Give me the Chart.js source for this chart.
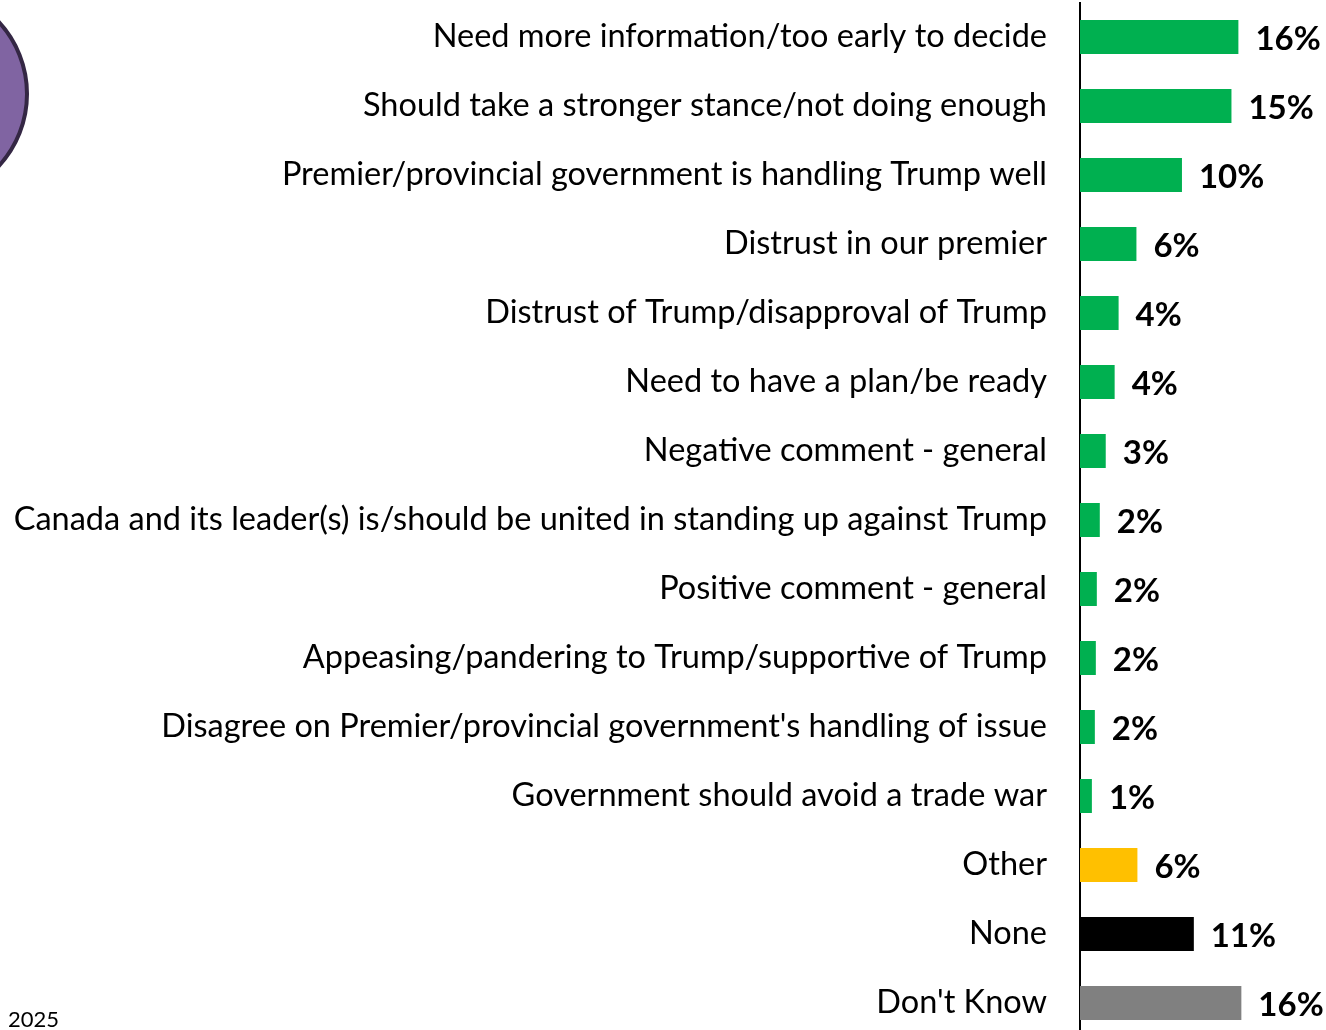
<!DOCTYPE html>
<html>
<head>
<meta charset="utf-8">
<script src="https://cdn.jsdelivr.net/npm/chart.js@4.4.0/dist/chart.umd.min.js"></script>
<style>
  html, body { margin: 0; padding: 0; background: #fff; overflow: hidden; }
  #wrap { position: relative; width: 1326px; height: 1030px; overflow: hidden; }
  #reasonsChart { position: absolute; left: 0; }
  #badge {
    position: absolute; left: -187px; top: -14px; width: 208px; height: 208px;
    border-radius: 50%; background: #8064A2; border: 4px solid #342744;
  }
  #year { position: absolute; left: 8px; top: 1005px; font: 22px Lato, sans-serif; color: #000; }
</style>
</head>
<body>
<div id="wrap">
  <div id="badge"></div>
  <canvas id="reasonsChart"></canvas>
  <div id="year">2025</div>
</div>
<script>
// Reasons given (share of respondents)
const categories = [
  'Need more information/too early to decide',
  'Should take a stronger stance/not doing enough',
  'Premier/provincial government is handling Trump well',
  'Distrust in our premier',
  'Distrust of Trump/disapproval of Trump',
  'Need to have a plan/be ready',
  'Negative comment - general',
  'Canada and its leader(s) is/should be united in standing up against Trump',
  'Positive comment - general',
  'Appeasing/pandering to Trump/supportive of Trump',
  "Disagree on Premier/provincial government's handling of issue",
  'Government should avoid a trade war',
  'Other',
  'None',
  "Don't Know"
];
const values = [16.0, 15.3, 10.3, 5.7, 3.9, 3.5, 2.6, 2.0, 1.7, 1.6, 1.5, 1.2, 5.8, 11.5, 16.3];
const valueLabels = ['16%', '15%', '10%', '6%', '4%', '4%', '3%', '2%', '2%', '2%', '2%', '1%', '6%', '11%', '16%'];

const GREEN = '#00B050', GOLD = '#FFC000', BLACK = '#000000', GREY = '#808080';
const barColors = categories.map(c => {
  if (c === 'Other') return GOLD;
  if (c === 'None') return BLACK;
  if (c === "Don't Know") return GREY;
  return GREEN;
});

// layout: the category scale reserves half a label + tick padding above and below,
// so the canvas is made taller and shifted up to put the plot where the original sits
const labelSize = 32.5, labelLine = 1.2, tickPad = 33;
const plotTop = 2.5, plotHeight = 1035;
const scalePad = labelSize * labelLine / 2 + tickPad;
const canvas = document.getElementById('reasonsChart');
canvas.width = 1326;
canvas.height = Math.round(plotHeight + 2 * scalePad);
canvas.style.top = (plotTop - scalePad) + 'px';

// value labels at the end of each bar
const endLabels = {
  id: 'endLabels',
  afterDatasetsDraw(chart) {
    const ctx = chart.ctx;
    const meta = chart.getDatasetMeta(0);
    ctx.save();
    ctx.font = 'bold 33px Lato, sans-serif';
    ctx.fillStyle = '#000';
    ctx.textAlign = 'left';
    ctx.textBaseline = 'middle';
    meta.data.forEach((bar, i) => {
      ctx.fillText(valueLabels[i], bar.x + 17, bar.y + 2);
    });
    ctx.restore();
  }
};

new Chart(canvas, {
  type: 'bar',
  data: {
    labels: categories,
    datasets: [{
      data: values,
      backgroundColor: barColors,
      borderWidth: 0,
      categoryPercentage: 1,
      barPercentage: 0.49
    }]
  },
  options: {
    indexAxis: 'y',
    responsive: false,
    animation: false,
    layout: { padding: 0 },
    plugins: {
      legend: { display: false },
      tooltip: { enabled: false }
    },
    scales: {
      x: {
        display: false,
        min: 0,
        max: 24.85
      },
      y: {
        afterFit(scale) { scale.width = 1080; },
        grid: { display: false, drawTicks: false },
        border: { display: true, color: '#000', width: 2 },
        ticks: {
          color: '#000',
          padding: tickPad,
          font: { family: 'Lato, sans-serif', size: labelSize, lineHeight: labelLine }
        }
      }
    }
  },
  plugins: [endLabels]
});
</script>
</body>
</html>
